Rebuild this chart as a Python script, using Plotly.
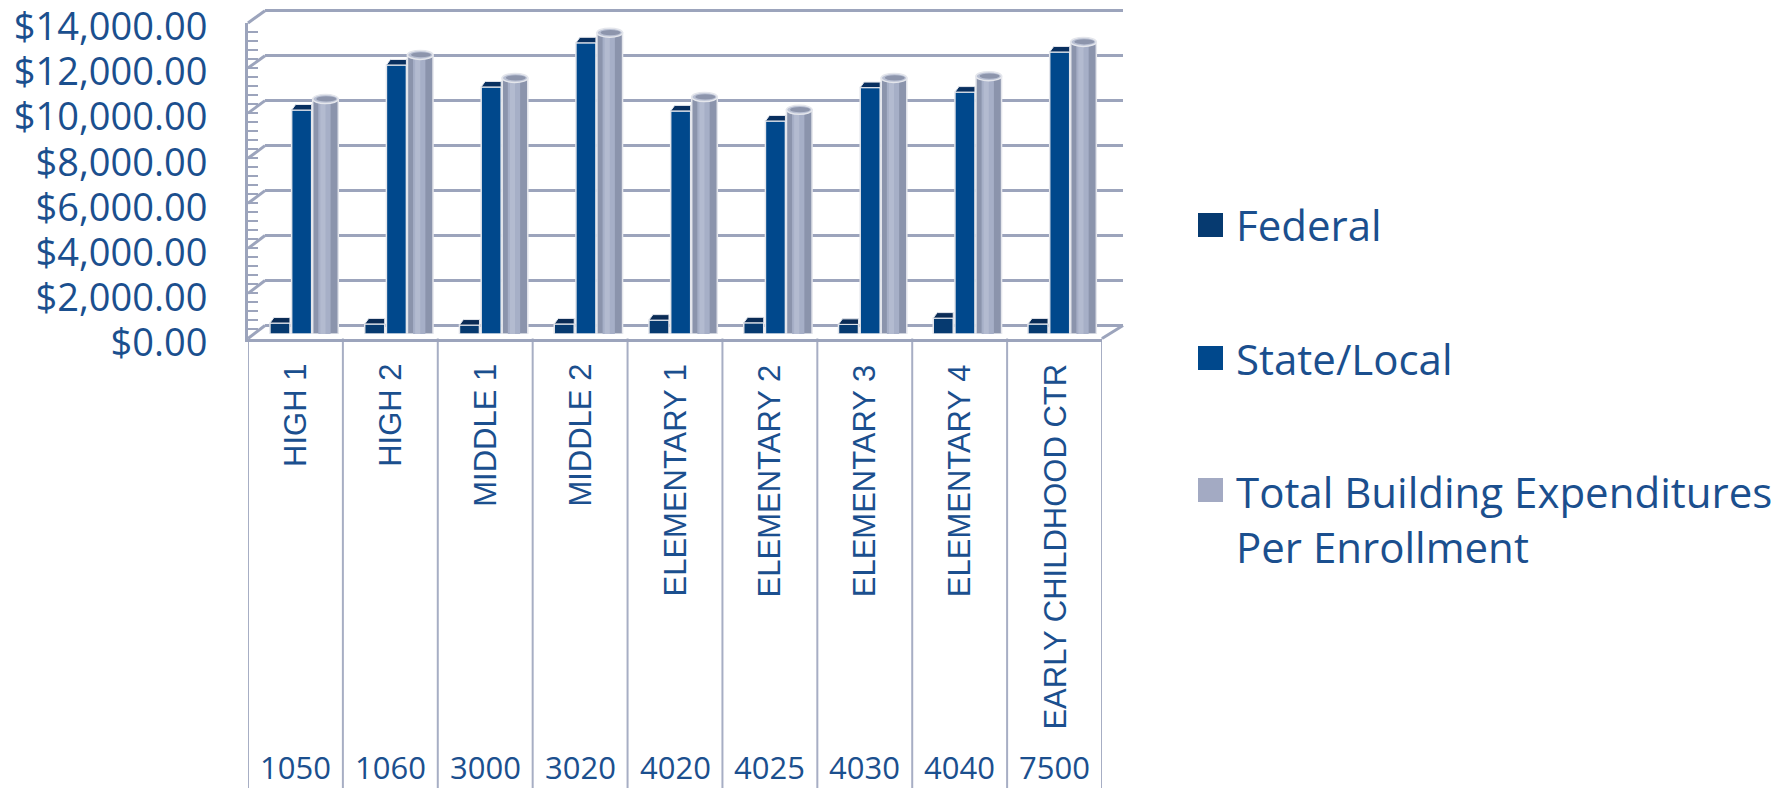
import plotly.graph_objects as go

# ---------------- data ----------------
schools = ["HIGH 1", "HIGH 2", "MIDDLE 1", "MIDDLE 2", "ELEMENTARY 1",
           "ELEMENTARY 2", "ELEMENTARY 3", "ELEMENTARY 4", "EARLY CHILDHOOD CTR"]
codes = ["1050", "1060", "3000", "3020", "4020", "4025", "4030", "4040", "7500"]
federal = [490, 450, 400, 450, 620, 500, 430, 710, 450]
state_local = [10000, 12010, 11030, 13000, 9960, 9510, 11000, 10800, 12590]
total = [10490, 12460, 11430, 13450, 10580, 10010, 11430, 11510, 13040]
series_names = ["Federal", "State/Local", "Total Building Expenditures<br>Per Enrollment"]
y_ticks = [0, 2000, 4000, 6000, 8000, 10000, 12000, 14000]
y_tick_labels = ["$0.00", "$2,000.00", "$4,000.00", "$6,000.00", "$8,000.00",
                 "$10,000.00", "$12,000.00", "$14,000.00"]

# ---------------- style ----------------
W, H = 1787, 796
TEXT = "#1B4F8E"
GRID = "#9CA4BC"
C_FED = "#063A70"
C_STATE = "#00488C"
C_TOT_EDGE = "#8B94AC"
C_TOT_MID = "#A6AFC7"
C_TOT_HI = "#B3BBD0"
OUTLINE = "#E4E6EC"
YMAX = 14000


def px(x):
    return x / W


def py(y):
    return 1 - y / H


# geometry (pixels) of the pseudo-3D box
FX0, FX1, FY0, FYT = 248, 1102, 338.5, 23      # front plane
BX0, BX1, BY0, BYT = 265, 1123, 325.5, 10.7    # back wall
CX0, CX1, CY0, CYT = 256.6, 1109.4, 334, 20.4  # bar plane

units_per_px_y = YMAX / (CY0 - CYT)
units_per_px_x = len(schools) / (CX1 - CX0)

OFF_FED, W_FED = -0.359, 0.211
OFF_ST, W_ST = -0.130, 0.211
OFF_TOT, W_TOT = 0.092, 0.27

fig = go.Figure()

# empty traces to register front and back subplots
fig.add_trace(go.Scatter(x=[], y=[], xaxis="x", yaxis="y", showlegend=False, hoverinfo="skip"))
fig.add_trace(go.Scatter(x=[], y=[], xaxis="x2", yaxis="y2", showlegend=False, hoverinfo="skip"))

fig.add_trace(go.Bar(x=schools, y=federal, name=series_names[0], xaxis="x3", yaxis="y3",
                     offset=OFF_FED, width=W_FED, marker=dict(color=C_FED, line=dict(color=OUTLINE, width=1.5)),
                     showlegend=False))
fig.add_trace(go.Bar(x=schools, y=state_local, name=series_names[1], xaxis="x3", yaxis="y3",
                     offset=OFF_ST, width=W_ST, marker=dict(color=C_STATE, line=dict(color=OUTLINE, width=1.5)),
                     showlegend=False))
# cylinder: edge, mid band, highlight band
fig.add_trace(go.Bar(x=schools, y=total, name=series_names[2], xaxis="x3", yaxis="y3",
                     offset=OFF_TOT, width=W_TOT, marker=dict(color=C_TOT_EDGE, line=dict(color=OUTLINE, width=1.5)),
                     showlegend=False))
fig.add_trace(go.Bar(x=schools, y=total, xaxis="x3", yaxis="y3", hoverinfo="skip",
                     offset=OFF_TOT + W_TOT * 0.22, width=W_TOT * 0.48,
                     marker=dict(color=C_TOT_MID, line=dict(width=0)), showlegend=False))
fig.add_trace(go.Bar(x=schools, y=total, xaxis="x3", yaxis="y3", hoverinfo="skip",
                     offset=OFF_TOT + W_TOT * 0.30, width=W_TOT * 0.20,
                     marker=dict(color=C_TOT_HI, line=dict(width=0)), showlegend=False))

shapes = []
# back-wall diagonals connecting front axis to back gridlines
for v in y_ticks:
    fy = FY0 - (FY0 - FYT) * v / YMAX
    by = BY0 - (BY0 - BYT) * v / YMAX
    shapes.append(dict(type="line", xref="paper", yref="paper", x0=px(FX0), y0=py(fy),
                       x1=px(BX0), y1=py(by), line=dict(color=GRID, width=3), layer="below"))
# right floor edge
shapes.append(dict(type="line", xref="paper", yref="paper", x0=px(BX1), y0=py(BY0),
                   x1=px(FX1), y1=py(FY0), line=dict(color=GRID, width=3), layer="below"))
# category separators below the floor
for k in range(len(schools) + 1):
    shapes.append(dict(type="line", xref="x", yref="paper", x0=k - 0.5, x1=k - 0.5,
                       y0=py(FY0), y1=py(788), line=dict(color="#A7AEC4", width=2), layer="below"))

# bar top caps (derived from data)
cap_dy = 5.5 * units_per_px_y
cap_dx = 4 * units_per_px_x
for vals, off, w, col in [(federal, OFF_FED, W_FED, "#0A2B55"), (state_local, OFF_ST, W_ST, "#082F5F")]:
    for i, v in enumerate(vals):
        xl, xr = i + off, i + off + w
        shapes.append(dict(type="path", xref="x3", yref="y3",
                           path=f"M{xl},{v} L{xr},{v} L{xr},{v + cap_dy} L{xl + cap_dx},{v + cap_dy} Z",
                           fillcolor=col, line=dict(color=OUTLINE, width=1), layer="above"))
eh = 4.5 * units_per_px_y
for i, t in enumerate(total):
    xl, xr = i + OFF_TOT, i + OFF_TOT + W_TOT
    shapes.append(dict(type="circle", xref="x3", yref="y3", x0=xl, x1=xr, y0=t - eh, y1=t + eh,
                       fillcolor="#B9C0D3", line=dict(color=OUTLINE, width=1.5), layer="above"))
    shapes.append(dict(type="circle", xref="x3", yref="y3", x0=xl + W_TOT * 0.14, x1=xr - W_TOT * 0.08,
                       y0=t - eh * 0.55, y1=t + eh * 0.6,
                       fillcolor="#8D95AC", line=dict(width=0), layer="above"))

# legend squares
legend_y = [225, 358, 490]
legend_cols = [C_FED, C_STATE, "#A3AAC3"]
for yy, col in zip(legend_y, legend_cols):
    shapes.append(dict(type="rect", xref="paper", yref="paper", x0=px(1198), x1=px(1223),
                       y0=py(yy + 12), y1=py(yy - 12), fillcolor=col, line=dict(width=0)))

annotations = []
for i, name in enumerate(schools):
    annotations.append(dict(text=name, x=i, xref="x", y=py(362), yref="paper", textangle=-90,
                            xanchor="center", yanchor="top", showarrow=False,
                            font=dict(family="Arial", size=31, color=TEXT)))
    annotations.append(dict(text=codes[i], x=i, xref="x", y=py(767), yref="paper",
                            xanchor="center", yanchor="middle", showarrow=False,
                            font=dict(family="Open Sans", size=31, color=TEXT)))
for k, (yy, nm) in enumerate(zip(legend_y, series_names)):
    annotations.append(dict(text=nm, x=px(1234), xref="paper", y=py(yy - 29) if k == 2 else py(yy),
                            yref="paper", xanchor="left", yanchor="top" if k == 2 else "middle",
                            align="left", showarrow=False,
                            font=dict(family="Open Sans", size=42, color=TEXT)))

# back wall axis gets a few px of padding so its end gridlines are not clipped
PAD_PX = 3
pad_u = PAD_PX * YMAX / (BY0 - BYT)
back_dom = [py(BY0 + PAD_PX), py(BYT - PAD_PX)]

fig.update_layout(
    template="none",
    width=W, height=H, autosize=False,
    margin=dict(l=0, r=0, t=0, b=0, pad=0),
    paper_bgcolor="white", plot_bgcolor="rgba(0,0,0,0)",
    barmode="overlay", showlegend=False,
    xaxis=dict(domain=[px(FX0), px(FX1)], range=[-0.5, len(schools) - 0.5], type="linear",
               anchor="y", showgrid=False, zeroline=False, showticklabels=False, ticks="",
               showline=True, linecolor=GRID, linewidth=3, fixedrange=True, automargin=False),
    yaxis=dict(domain=[py(FY0), py(FYT)], range=[0, YMAX], anchor="x",
               tickvals=y_ticks, ticktext=y_tick_labels, ticks="inside", ticklen=10,
               tickwidth=2, tickcolor=GRID,
               minor=dict(ticks="inside", dtick=400, tick0=0, ticklen=10, tickwidth=2, tickcolor=GRID),
               showgrid=False, zeroline=False, showline=True, linecolor=GRID, linewidth=3,
               ticklabelstandoff=30, ticklabelshift=4, ticklabeloverflow="allow", automargin=False,
               tickfont=dict(family="Open Sans", size=38, color=TEXT), fixedrange=True),
    xaxis2=dict(domain=[px(BX0), px(BX1)], range=[-0.5, len(schools) - 0.5], type="linear",
                anchor="y2", visible=False, fixedrange=True, automargin=False),
    yaxis2=dict(domain=back_dom, range=[-pad_u, YMAX + pad_u], anchor="x2",
                tickvals=y_ticks, showgrid=True, gridcolor=GRID, gridwidth=3, zeroline=False,
                showticklabels=False, ticks="", showline=False, fixedrange=True, automargin=False),
    xaxis3=dict(domain=[px(CX0), px(CX1)], range=[-0.5, len(schools) - 0.5], type="category",
                categoryorder="array", categoryarray=schools, anchor="y3", visible=False,
                fixedrange=True, automargin=False),
    yaxis3=dict(domain=[py(CY0), py(CYT)], range=[0, YMAX], anchor="x3", visible=False,
                fixedrange=True, automargin=False),
    shapes=shapes,
    annotations=annotations,
)

fig.write_html("out.html")
